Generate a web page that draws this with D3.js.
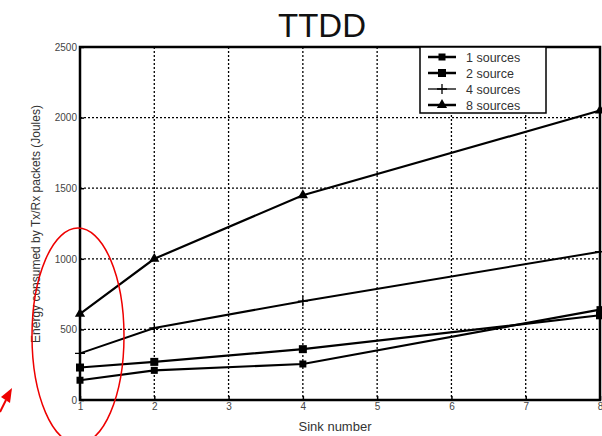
<!DOCTYPE html>
<html>
<head>
<meta charset="utf-8">
<script src="https://cdn.jsdelivr.net/npm/d3@7"></script>
<style>
body { margin: 0; background: #fff; }
text { font-family: "Liberation Sans", Arial, sans-serif; }
</style>
</head>
<body>
<div id="chart"></div>
<script>
// sink numbers where markers sit
var sinks = [1, 2, 4, 8];
var oneSource = [140, 210, 255, 640];
var twoSource = [230, 270, 360, 600];
var fourSources = [330, 510, 700, 1050];
var eightSources = [610, 1000, 1450, 2050];
var seriesNames = ["1 sources", "2 source", "4 sources", "8 sources"];
var xTicks = [1, 2, 3, 4, 5, 6, 7, 8];
var yTicks = [0, 500, 1000, 1500, 2000, 2500];

function init() {
    var w = 602, h = 436;
    var left = 80, right = 600, top = 47, bottom = 400;

    var svg = d3.select("#chart").append("svg")
        .attr("width", w).attr("height", h);

    var xScale = d3.scaleLinear().domain([1, 8]).range([left, right]);
    var yScale = d3.scaleLinear().domain([0, 2500]).range([bottom, top]);

    // title
    svg.append("text")
        .attr("x", 322).attr("y", 37)
        .attr("text-anchor", "middle")
        .attr("font-family", "DejaVu Sans, sans-serif")
        .attr("font-size", "33px")
        .attr("fill", "#111")
        .text("TTDD");

    // grid
    svg.append("g").selectAll("line")
        .data(xTicks.slice(1, -1))
        .enter().append("line")
        .attr("x1", function(d) { return xScale(d); })
        .attr("x2", function(d) { return xScale(d); })
        .attr("y1", top).attr("y2", bottom)
        .attr("stroke", "#000").attr("stroke-width", 1.3)
        .attr("stroke-dasharray", "2,2");
    svg.append("g").selectAll("line")
        .data(yTicks.slice(1, -1))
        .enter().append("line")
        .attr("x1", left).attr("x2", right)
        .attr("y1", function(d) { return yScale(d); })
        .attr("y2", function(d) { return yScale(d); })
        .attr("stroke", "#000").attr("stroke-width", 1.3)
        .attr("stroke-dasharray", "2,2");

    // axes
    var xAxis = d3.axisBottom(xScale).tickValues(xTicks).tickSize(4).tickFormat(d3.format("d"));
    var yAxis = d3.axisLeft(yScale).tickValues(yTicks).tickSize(4).tickFormat(d3.format("d"));
    var gx = svg.append("g").attr("transform", "translate(0," + bottom + ")").call(xAxis);
    var gy = svg.append("g").attr("transform", "translate(" + left + ",0)").call(yAxis);
    [gx, gy].forEach(function(g) {
        g.select(".domain").remove();
        g.selectAll("line").attr("stroke", "#000").attr("stroke-width", 1.5);
        g.selectAll("text").attr("font-size", "10px").attr("fill", "#444")
            .attr("font-family", "Liberation Sans, Arial, sans-serif");
    });
    gx.selectAll("line").attr("y2", -4);
    gx.selectAll("text").attr("y", 3);
    gy.selectAll("line").attr("x2", 4);
    gy.selectAll("text").attr("x", -3);

    // frame
    svg.append("rect")
        .attr("x", left).attr("y", top)
        .attr("width", right - left).attr("height", bottom - top)
        .attr("fill", "none").attr("stroke", "#000").attr("stroke-width", 2.5);

    // axis labels
    svg.append("text")
        .attr("x", 335).attr("y", 431)
        .attr("text-anchor", "middle")
        .attr("font-size", "13px").attr("fill", "#333")
        .text("Sink number");
    svg.append("text")
        .attr("transform", "translate(40,224) rotate(-90)")
        .attr("text-anchor", "middle")
        .attr("font-size", "12px").attr("fill", "#333")
        .text("Energy consumed by Tx/Rx packets (Joules)");

    var allSeries = [oneSource, twoSource, fourSources, eightSources];
    var markers = ["square", "square", "plus", "triangle"];
    var line = d3.line()
        .x(function(d, i) { return xScale(sinks[i]); })
        .y(function(d) { return yScale(d); });

    function drawMarker(g, type, x, y, big) {
        if (type == "square") {
            var s = big ? 8 : 7;
            g.append("rect").attr("x", x - s / 2).attr("y", y - s / 2)
                .attr("width", s).attr("height", s).attr("fill", "#000");
        } else if (type == "plus") {
            g.append("path").attr("d", "M" + (x - 5) + "," + y + "H" + (x + 5) + "M" + x + "," + (y - 5) + "V" + (y + 5))
                .attr("stroke", "#000").attr("stroke-width", 1.3);
        } else {
            g.append("path").attr("d", d3.symbol().type(d3.symbolTriangle).size(45)())
                .attr("transform", "translate(" + x + "," + y + ")")
                .attr("fill", "#000");
        }
    }

    allSeries.forEach(function(vals, k) {
        var g = svg.append("g");
        g.append("path").datum(vals)
            .attr("d", line)
            .attr("fill", "none").attr("stroke", "#000")
            .attr("stroke-width", markers[k] == "plus" ? 2 : 2.2);
        vals.forEach(function(v, i) {
            drawMarker(g, markers[k], xScale(sinks[i]), yScale(v), k == 1);
        });
    });

    // legend
    var lg = svg.append("g");
    lg.append("rect").attr("x", 420).attr("y", 47).attr("width", 126).attr("height", 66)
        .attr("fill", "#fff").attr("stroke", "#000").attr("stroke-width", 1.5);
    seriesNames.forEach(function(name, k) {
        var y = 57 + k * 16;
        lg.append("line").attr("x1", 428).attr("x2", 456).attr("y1", y).attr("y2", y)
            .attr("stroke", "#000").attr("stroke-width", markers[k] == "plus" ? 1.3 : 2.5);
        drawMarker(lg, markers[k], 442, y, k == 1);
        lg.append("text").attr("x", 466).attr("y", y + 4.5)
            .attr("font-size", "12.5px").attr("fill", "#333").text(name);
    });

    // red annotation
    svg.append("ellipse")
        .attr("cx", 78).attr("cy", 336).attr("rx", 46).attr("ry", 108)
        .attr("fill", "none").attr("stroke", "#e00").attr("stroke-width", 1.5);
    svg.append("line").attr("x1", 0).attr("y1", 412).attr("x2", 6).attr("y2", 400)
        .attr("stroke", "#e00").attr("stroke-width", 2);
    svg.append("path").attr("d", "M12,388 L1,397 L10,403 Z").attr("fill", "#e00");
}
window.onload = init;
</script>
</body>
</html>
